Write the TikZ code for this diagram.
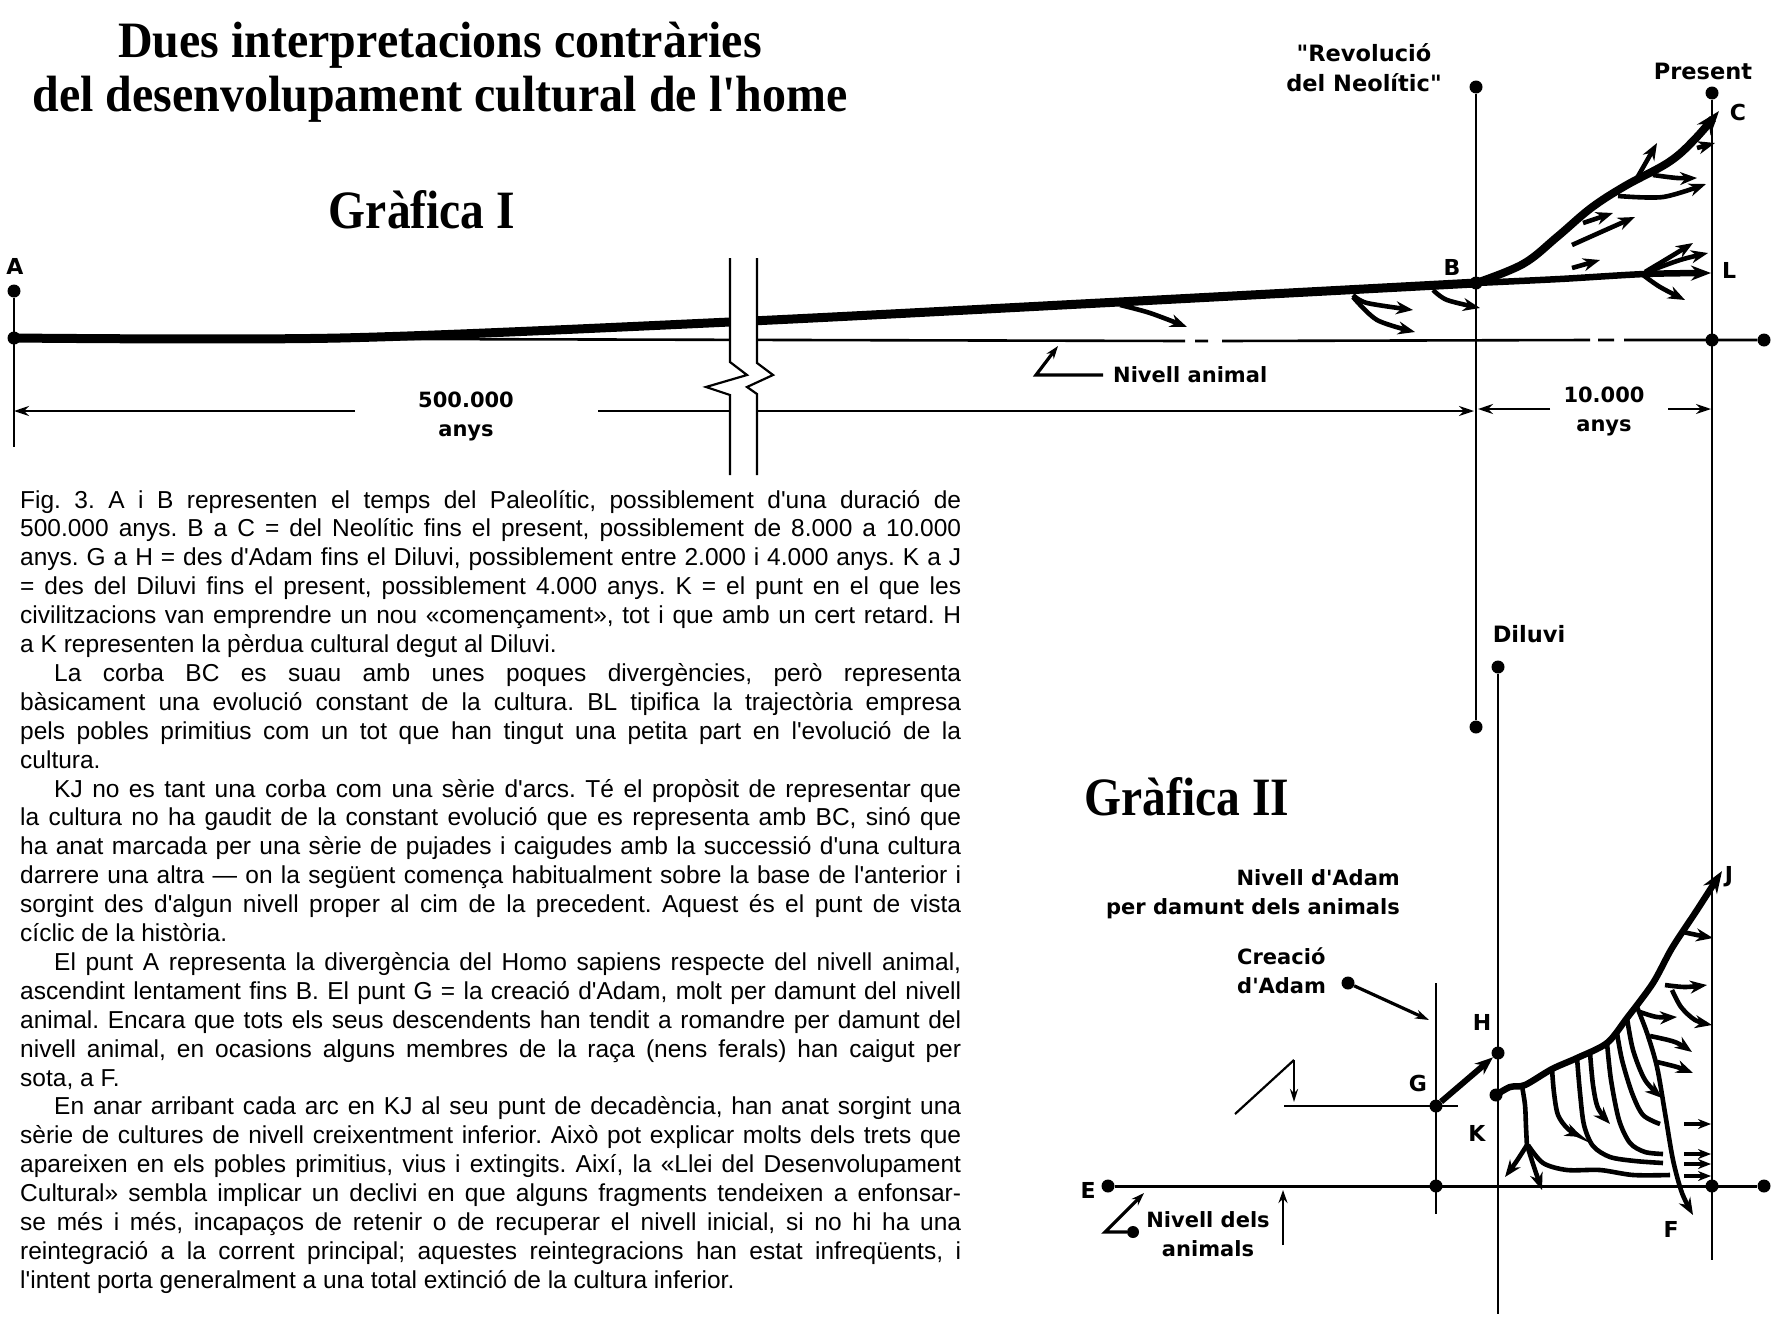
\documentclass[tikz,border=0pt]{standalone}
\usepackage{fontspec}
\usepackage{graphicx}
\usepackage{tikz}
\usetikzlibrary{arrows.meta}
\newfontfamily\txtfont{Liberation Sans}
\newfontfamily\lbfont{DejaVu Sans}
\newfontfamily\ttlfont{Liberation Serif}

\begin{document}
\begin{tikzpicture}[x=1pt,y=-1pt,>=Stealth,
  dot/.style={circle,fill,inner sep=0pt,minimum size=13pt},
  ln/.style={line width=2.2pt},
  trunk/.style={line width=9pt},
  arc/.style={line width=4.6pt},
  twig/.style={line width=4.6pt,-{Stealth[length=17pt,width=13pt]}},
  dim/.style={line width=2.4pt,-{Stealth[length=15pt,width=10pt]}},
  lbl/.style={font=\lbfont\bfseries\fontsize{21}{29}\selectfont,inner sep=0pt,align=center},
  lett/.style={font=\lbfont\bfseries\fontsize{22}{24}\selectfont,inner sep=0pt},
  ttl/.style={font=\ttlfont\bfseries\fontsize{51}{54}\selectfont,inner sep=0pt,anchor=base}]
  \useasboundingbox (0,0) rectangle (1784,1328);

  \node[ttl] (tit1) at (440,57) {\scalebox{0.94}[1]{Dues interpretacions contràries}};
  \node[ttl] (tit2) at (440,111) {\scalebox{0.94}[1]{del desenvolupament cultural de l'home}};
  \node[ttl,font=\ttlfont\bfseries\fontsize{54}{56}\selectfont] (graf1) at (422,228) {\scalebox{0.88}[1]{Gràfica I}};
  \node[ttl,font=\ttlfont\bfseries\fontsize{54}{56}\selectfont] (graf2) at (1187,815) {\scalebox{0.88}[1]{Gràfica II}};

  \node[dot] (Atop) at (14,291) {};
  \node[dot] (A) at (14,338) {};
  \coordinate (Abot) at (14,447);
  \node[dot] (Btop) at (1476,87) {};
  \node[dot] (B) at (1476,283) {};
  \node[dot] (Bbot) at (1476,727) {};
  \node[dot] (Ptop) at (1712,93) {};
  \node[dot] (P) at (1712,340) {};
  \node[dot] (Pend) at (1764,340) {};
  \coordinate (Jbot) at (1712,1260);

  \draw[ln] (Atop) -- (Abot);
  \draw[ln] (Btop) -- (Bbot);
  \draw[ln] (Ptop) -- (Jbot);
  \draw[line width=2.6pt] (A) -- (1185,341) (1195,341) -- (1208,341) (1222,341) -- (1590,340)
    (1598,340) -- (1614,340) (1624,340) -- (Pend);

  \draw[trunk] plot[smooth,tension=0.5] coordinates {(A.center) (340,338) (730,322) (1100,303) (B.center)};
  \draw[line width=6.5pt,-{Stealth[length=20pt,width=15pt]}] plot[smooth] coordinates {(B.center) (1560,279) (1645,274) (1711,273)};
  \draw[line width=8pt,-{Stealth[length=24pt,width=17pt]}] plot[smooth,tension=0.6] coordinates
    {(B.center) (1523,264) (1557,237) (1591,208) (1625,186) (1669,162) (1695,139) (1719,111)};

  \draw[twig] (1697,148) -- (1715,143);
  \draw[twig] (1637,178) -- (1657,143);
  \draw[twig] plot[smooth] coordinates {(1653,175) (1677,178) (1697,178)};
  \draw[twig] plot[smooth] coordinates {(1618,196) (1663,197) (1706,184)};
  \draw[twig] (1583,223) -- (1613,213);
  \draw[twig] plot[smooth] coordinates {(1572,245) (1610,228) (1635,217)};
  \draw[twig] (1572,268) -- (1600,260);
  \draw[twig] plot[smooth] coordinates {(1645,272) (1670,257) (1693,243)};
  \draw[twig] plot[smooth] coordinates {(1647,272) (1680,260) (1708,253)};
  \draw[twig] plot[smooth] coordinates {(1643,275) (1660,287) (1685,300)};
  \draw[twig] plot[smooth] coordinates {(1433,290) (1447,300) (1480,308)};
  \draw[twig] plot[smooth] coordinates {(1353,295) (1367,303) (1413,310)};
  \draw[twig] plot[smooth] coordinates {(1353,297) (1377,320) (1415,332)};
  \draw[twig] plot[smooth] coordinates {(1120,305) (1150,313) (1187,327)};

  \draw[dim] (355,411) -- (Abot |- 0,411);
  \draw[dim] (598,411) -- (1474,411);
  \draw[dim] (1550,409) -- (1478,409);
  \draw[dim] (1668,409) -- (1711,409);

  \fill[white] (730,258) -- (757,258) -- (757,363) -- (773,375) -- (747,387) -- (757,394) -- (757,475)
    -- (730,475) -- (730,395) -- (706,387) -- (747,375) -- (730,362) -- cycle;
  \draw[ln] (730,258) -- (730,362) -- (747,375) -- (706,387) -- (730,395) -- (730,475);
  \draw[ln] (757,258) -- (757,363) -- (773,375) -- (747,387) -- (757,394) -- (757,475);

  \node[lbl] (n500) at (466,416) {500.000\\anys};
  \node[lbl] (n10) at (1604,411) {10.000\\anys};
  \node[lbl,anchor=west] (nanim) at (1113,375) {Nivell animal};
  \draw[line width=3.2pt,-{Stealth[length=13pt,width=9pt]}] ([xshift=-10pt]nanim.west) -- (1036,375) -- (1058,346);
  \node[lbl,font=\lbfont\bfseries\fontsize{22.5}{30}\selectfont] (rev) at (1364,68) {"Revolució\\del Neolític"};
  \node[lbl,font=\lbfont\bfseries\fontsize{22.5}{30}\selectfont] (pres) at (1703,71) {Present};
  \node[lbl,font=\lbfont\bfseries\fontsize{22.5}{30}\selectfont] (dil) at (1529,634) {Diluvi};

  \foreach \n/\t/\x/\y in {la/A/15/266, lb/B/1452/267, ll/L/1729/270, lc/C/1738/112,
      le/E/1088/1190, lf/F/1671/1229, lg/G/1418/1083, lh/H/1482/1022, lk/K/1477/1133, lj/J/1729/877}
    \node[lett] (\n) at (\x,\y) {\t};

  \node[dot] (Dtop) at (1498,667) {};
  \coordinate (Dbot) at (1498,1314);
  \draw[ln] (Dtop) -- (Dbot);
  \node[dot] (E) at (1108,1186) {};
  \node[dot] (GE) at (1436,1186) {};
  \node[dot] (JE) at (1712,1186) {};
  \node[dot] (Eend) at (1764,1186) {};
  \draw[line width=3pt] (E) -- (Eend);
  \coordinate (Gtop) at (1436,983);
  \coordinate (Gbot) at (1436,1214);
  \draw[ln] (Gtop) -- (Gbot);
  \node[dot] (G) at (1436,1106) {};
  \node[dot] (H) at (1498,1053) {};
  \node[dot] (K) at (1496,1095) {};
  \draw[ln] (1284,1106) -- (1458,1106);
  \draw[ln] (1235,1114) -- (1294,1060);
  \draw[ln,-{Stealth[length=13pt,width=8pt]}] (1294,1060) -- (1294,1102);
  \draw[line width=6pt,-{Stealth[length=18pt,width=14pt]}] (G) -- (H);

  \node[dot] (cdot) at (1348,983) {};
  \coordinate (ctip) at (1429,1020);
  \draw[line width=3.2pt,-{Stealth[length=14pt,width=9pt]}] (cdot) -- (ctip);
  \node[lbl,align=left,anchor=north west] (cre) at (1237,947) {Creació\\d'Adam};
  \node[lbl,align=right,anchor=north east] (adam) at (1400,869) {Nivell d'Adam\\per damunt dels animals};
  \node[lbl] (ndan) at (1208,1234) {Nivell dels\\animals};
  \node[dot,minimum size=12pt] (ndot) at (1133,1232) {};
  \draw[line width=3.2pt,-{Stealth[length=13pt,width=9pt]}] (ndot) -- (1105,1232) -- (1144,1193);
  \draw[line width=2.8pt,-{Stealth[length=13pt,width=9pt]}] (1283,1245) -- (1283,1190);

  \draw[line width=6.5pt,-{Stealth[length=22pt,width=16pt]}] plot[smooth,tension=0.5] coordinates
    {(K.center) (1510,1087) (1525,1085) (1552,1069) (1577,1058) (1607,1043) (1627,1018) (1653,983) (1672,948) (1697,910) (1722,871)};
  \draw[arc] plot[smooth] coordinates {(1522,1086) (1525,1105) (1526,1127) (1527,1147)};
  \draw[twig] plot[smooth] coordinates {(1527,1145) (1516,1162) (1505,1177)};
  \draw[twig] plot[smooth] coordinates {(1527,1145) (1534,1167) (1542,1190)};
  \draw[arc] plot[smooth] coordinates {(1528,1145) (1543,1163) (1567,1170) (1600,1170) (1633,1175) (1670,1175)};
  \draw[twig] plot[smooth] coordinates {(1552,1069) (1554,1093) (1558,1115) (1568,1129) (1582,1137)};
  \draw[arc] plot[smooth] coordinates {(1577,1058) (1580,1093) (1584,1125) (1593,1146) (1610,1157) (1635,1161) (1663,1163)};
  \draw[twig] plot[smooth] coordinates {(1590,1053) (1593,1085) (1598,1108) (1610,1124)};
  \draw[arc] plot[smooth] coordinates {(1607,1043) (1611,1080) (1619,1120) (1630,1143) (1645,1152) (1663,1154)};
  \draw[arc] plot[smooth] coordinates {(1617,1033) (1622,1060) (1632,1093) (1643,1115) (1660,1124)};
  \draw[twig] plot[smooth] coordinates {(1627,1018) (1633,1050) (1645,1080) (1662,1098)};
  \draw[twig] plot[smooth] coordinates {(1637,1007) (1647,1033) (1657,1067) (1665,1113) (1673,1160) (1682,1193) (1693,1215)};
  \draw[twig] plot[smooth] coordinates {(1640,1012) (1657,1017) (1677,1017)};
  \draw[twig] plot[smooth] coordinates {(1650,1036) (1675,1042) (1692,1052)};
  \draw[twig] plot[smooth] coordinates {(1657,1062) (1677,1067) (1693,1073)};
  \draw[twig] plot[smooth] coordinates {(1665,985) (1685,987) (1707,985)};
  \draw[twig] plot[smooth] coordinates {(1672,990) (1681,1007) (1695,1020) (1712,1025)};
  \draw[twig] plot[smooth] coordinates {(1683,932) (1697,935) (1713,938)};
  \foreach \y in {1124,1154,1164,1176}
    \draw[line width=3.4pt,-{Stealth[length=13pt,width=10pt]}] (1684,\y) -- (1711,\y);

  \node[anchor=base west,inner sep=0pt,text width=941pt,align=justify,
    font=\txtfont\fontsize{24.5}{28.9}\selectfont] (caption) at (20,508) {\sloppy\frenchspacing\parindent=34pt\noindent
Fig. 3. A i B representen el temps del Paleolític, possiblement d'una duració de\linebreak
500.000 anys. B a C = del Neolític fins el present, possiblement de 8.000 a 10.000\linebreak
anys. G a H = des d'Adam fins el Diluvi, possiblement entre 2.000 i 4.000 anys. K a J\linebreak
= des del Diluvi fins el present, possiblement 4.000 anys. K = el punt en el que les\linebreak
civilitzacions van emprendre un nou «començament», tot i que amb un cert retard. H\linebreak
a K representen la pèrdua cultural degut al Diluvi.\par
La corba BC es suau amb unes poques divergències, però representa\linebreak
bàsicament una evolució constant de la cultura. BL tipifica la trajectòria empresa\linebreak
pels pobles primitius com un tot que han tingut una petita part en l'evolució de la\linebreak
cultura.\par
KJ no es tant una corba com una sèrie d'arcs. Té el propòsit de representar que\linebreak
la cultura no ha gaudit de la constant evolució que es representa amb BC, sinó que\linebreak
ha anat marcada per una sèrie de pujades i caigudes amb la successió d'una cultura\linebreak
darrere una altra — on la següent comença habitualment sobre la base de l'anterior i\linebreak
sorgint des d'algun nivell proper al cim de la precedent. Aquest és el punt de vista\linebreak
cíclic de la història.\par
El punt A representa la divergència del Homo sapiens respecte del nivell animal,\linebreak
ascendint lentament fins B. El punt G = la creació d'Adam, molt per damunt del nivell\linebreak
animal. Encara que tots els seus descendents han tendit a romandre per damunt del\linebreak
nivell animal, en ocasions alguns membres de la raça (nens ferals) han caigut per\linebreak
sota, a F.\par
En anar arribant cada arc en KJ al seu punt de decadència, han anat sorgint una\linebreak
sèrie de cultures de nivell creixentment inferior. Això pot explicar molts dels trets que\linebreak
apareixen en els pobles primitius, vius i extingits. Així, la «Llei del Desenvolupament\linebreak
Cultural» sembla implicar un declivi en que alguns fragments tendeixen a enfonsar-\linebreak
se més i més, incapaços de retenir o de recuperar el nivell inicial, si no hi ha una\linebreak
reintegració a la corrent principal; aquestes reintegracions han estat infreqüents, i\linebreak
l'intent porta generalment a una total extinció de la cultura inferior.};
\end{tikzpicture}
\end{document}
